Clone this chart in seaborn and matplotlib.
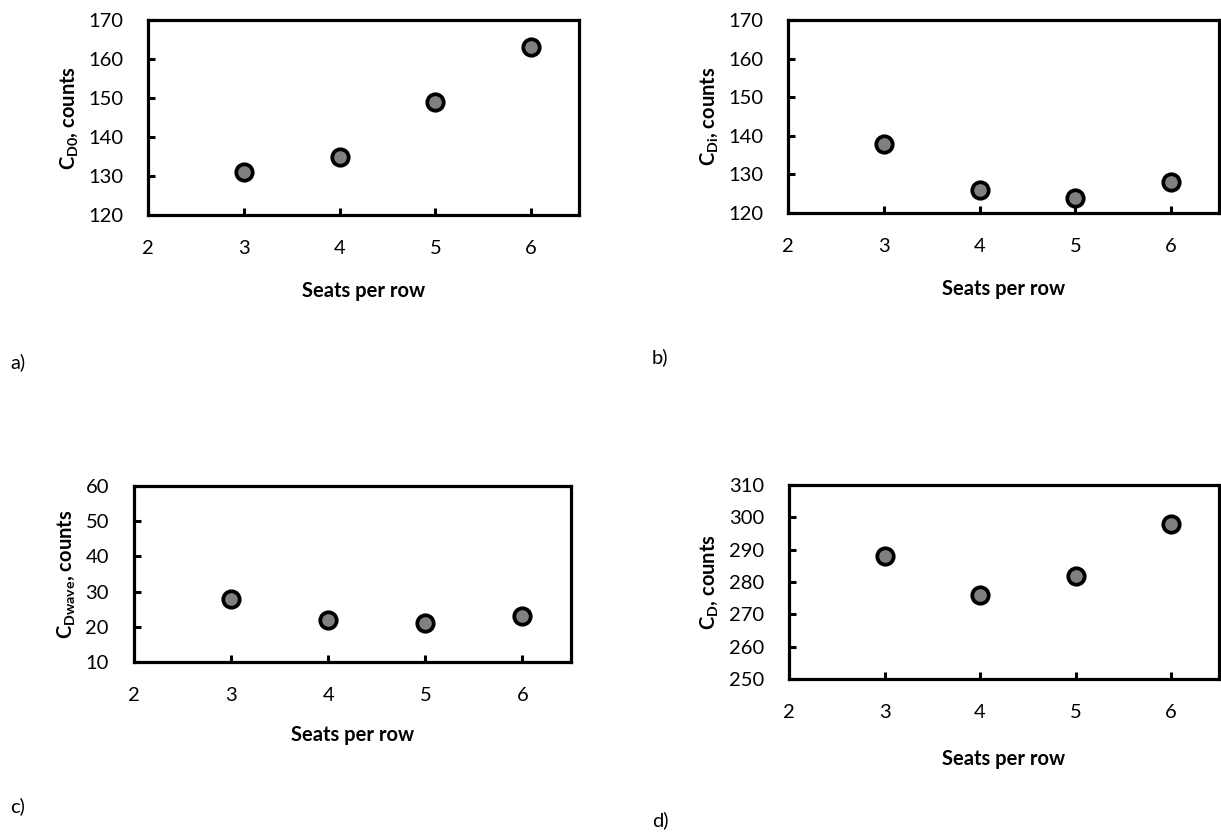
import matplotlib
matplotlib.use("Agg")
import matplotlib.pyplot as plt
import seaborn as sns
import pandas as pd

seats = [3, 4, 5, 6]
cd0 = [131, 135, 149, 163]
cdi = [138, 126, 124, 128]
cdwave = [28, 22, 21, 23]
cd = [288, 276, 282, 298]

ylabels = [r"$\mathbf{C}_\mathbf{D0}$, counts", r"$\mathbf{C}_\mathbf{Di}$, counts",
           r"$\mathbf{C}_\mathbf{Dwave}$, counts", r"$\mathbf{C}_\mathbf{D}$, counts"]
yranges = [(120, 170), (120, 170), (10, 60), (250, 310)]
panel_letters = ["a)", "b)", "c)", "d)"]
xticks = [2, 3, 4, 5, 6]
xlabel = "Seats per row"

sns.set_theme(style="white")
plt.rcParams["font.family"] = ["Lato", "DejaVu Sans"]
plt.rcParams["mathtext.fontset"] = "custom"
plt.rcParams["mathtext.bf"] = "Lato:bold"
plt.rcParams["mathtext.rm"] = "Lato"

W, H = 1221, 834
fig = plt.figure(figsize=(W / 100, H / 100), dpi=100)

# axes boxes in pixel coords: left, top, right, bottom
boxes = [(148, 20, 579, 215), (788, 20, 1219, 213), (134, 486, 571, 662), (789, 485, 1219, 679)]
series = [cd0, cdi, cdwave, cd]
letter_pos = [(10, 362), (652, 357), (10, 806), (652, 820)]
xlabelpads = [17, 17, 15, 20]

for i in range(4):
    l, t, r, b = boxes[i]
    ax = fig.add_axes([l / W, 1 - b / H, (r - l) / W, (b - t) / H])
    df = pd.DataFrame({"x": seats, "y": series[i]})
    sns.scatterplot(data=df, x="x", y="y", ax=ax, s=140, color="#808080",
                    edgecolor="black", linewidth=2.7, zorder=3, clip_on=False)
    ax.set_xlim(2, 6.5)
    ax.set_ylim(*yranges[i])
    ax.set_xticks(xticks)
    lo, hi = yranges[i]
    ax.set_yticks(list(range(lo, hi + 1, 10)))
    for sp in ax.spines.values():
        sp.set_color("black")
        sp.set_linewidth(2.3)
        sp.set_capstyle("projecting")
    ax.tick_params(axis="both", direction="in", length=5, width=2.2, color="black",
                   labelsize=14.5, labelcolor="black", bottom=True, left=True, top=False, right=False)
    ax.tick_params(axis="y", pad=18)
    ax.tick_params(axis="x", pad=18)
    ax.set_xlabel(xlabel, fontsize=14.5, fontweight="bold", color="black", labelpad=xlabelpads[i])
    ax.set_ylabel(ylabels[i], fontsize=14.5, fontweight="bold", color="black", labelpad=6)
    fig.text(letter_pos[i][0] / W, 1 - letter_pos[i][1] / H, panel_letters[i],
             fontsize=14.5, color="black", va="center", ha="left")

fig.savefig("out.png", dpi=100)
